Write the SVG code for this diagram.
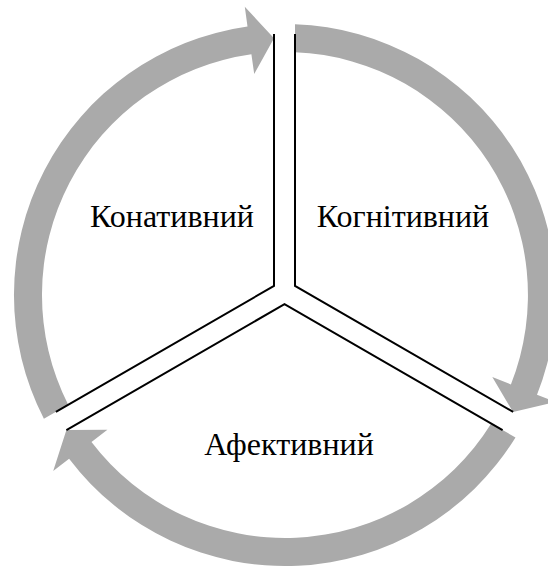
<svg xmlns="http://www.w3.org/2000/svg" width="548" height="567" viewBox="0 0 548 567">
  <style>
    .arrow { fill: #AAAAAA; stroke: none; }
    .sep { fill: none; stroke: #000000; stroke-width: 2; stroke-linejoin: miter; }
    .label { font-family: "Liberation Serif", "Times New Roman", serif; font-size: 32px; fill: #000000; text-anchor: middle; }
  </style>
  <rect width="548" height="567" fill="#FFFFFF"/>
  <g id="connectors">
    <path id="arrow-left" class="arrow" d="M 43.9 418.8 A 271 271 0 0 1 247.5 26.6 L 244.8 6.8 L 274 38.2 L 254.2 74.1 L 251.4 54.3 A 243 243 0 0 0 68.2 404.75 Z"/>
    <path id="arrow-right" class="arrow" d="M 295 24.2 A 271 271 0 0 1 537 394.8 L 555.6 402.1 L 513 412 L 492.3 377.1 L 510.9 384.4 A 243 243 0 0 0 295 52.2 Z"/>
    <path id="arrow-bottom" class="arrow" d="M 515.5 437.5 A 271 271 0 0 1 69.1 458.8 L 53.2 470.9 L 66.4 430.1 L 107.4 429.8 L 91.5 441.9 A 243 243 0 0 0 491.25 423.5 Z"/>
    <path class="sep" d="M 274 34 L 274 285.9 L 55.9 411.9"/>
    <path class="sep" d="M 295 34 L 295 285.9 L 513.1 411.9"/>
    <path class="sep" d="M 66.4 430.1 L 284.5 304.1 L 502.6 430.1"/>
  </g>
  <g id="node-konatyvnyi">
    <text class="label" x="172" y="227">Конативний</text>
  </g>
  <g id="node-kohnityvnyi">
    <text class="label" x="403" y="227">Когнітивний</text>
  </g>
  <g id="node-afektyvnyi">
    <text class="label" x="289" y="455">Афективний</text>
  </g>
</svg>
